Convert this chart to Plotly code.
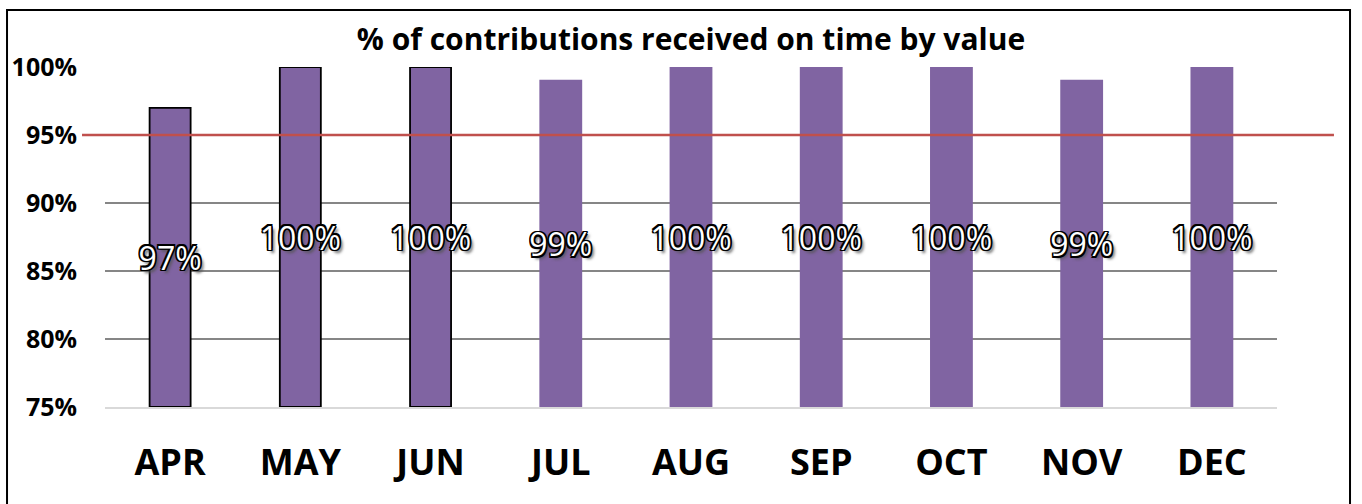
import plotly.graph_objects as go

# data
months = ["APR", "MAY", "JUN", "JUL", "AUG", "SEP", "OCT", "NOV", "DEC"]
on_time = [0.97, 1.00, 1.00, 0.99, 1.00, 1.00, 1.00, 0.99, 1.00]
outlined = [True, True, True, False, False, False, False, False, False]
labels = ["97%", "100%", "100%", "99%", "100%", "100%", "100%", "99%", "100%"]
target = 0.95
axis_min = 0.75
axis_max = 1.00
y_ticks = [0.75, 0.80, 0.85, 0.90, 0.95, 1.00]

PURPLE = "#8064A2"
RED = "#C0504D"
FONT = "Open Sans, sans-serif"

# black outline + soft drop shadow on the white value labels
o = "1.5px"
OUTLINE = ", ".join(
    f"{dx} {dy} 0 #000"
    for dx, dy in [(f"-{o}", f"-{o}"), (o, f"-{o}"), (f"-{o}", o), (o, o),
                   ("0", o), ("0", f"-{o}"), (o, "0"), (f"-{o}", "0")]
) + ", 3px 3px 3px #555"

# bars start at the axis minimum, like the Excel original
fig = go.Figure(go.Bar(
    x=months,
    y=[v - axis_min for v in on_time],
    base=axis_min,
    width=0.315,
    marker=dict(
        color=PURPLE,
        line=dict(color=["#000000" if ol else PURPLE for ol in outlined], width=1.8),
    ),
    text=labels,
    textposition="inside",
    insidetextanchor="middle",
    constraintext="none",
    textangle=0,
    textfont=dict(family=FONT, size=32, color="#ffffff", shadow=OUTLINE),
    cliponaxis=False,
    hoverinfo="skip",
))

fig.update_layout(
    width=1362,
    height=504,
    margin=dict(l=105, r=85, t=67, b=97),
    paper_bgcolor="#ffffff",
    plot_bgcolor="#ffffff",
    showlegend=False,
    title=dict(
        text="<b>% of contributions received on time by value</b>",
        x=0.5, xref="paper", xanchor="center",
        y=0.921, yref="container", yanchor="middle",
        font=dict(family=FONT, size=30, color="#000000"),
    ),
    xaxis=dict(
        showgrid=False,
        showline=True, linecolor="#d9d9d9", linewidth=1.5,
        ticks="",
        ticklabelstandoff=23,
        tickfont=dict(family=FONT, size=36, color="#000000", weight="bold"),
    ),
    yaxis=dict(
        range=[axis_min, axis_max],
        tickvals=y_ticks,
        tickformat=".0%",
        showgrid=True, gridcolor="#868686", gridwidth=1.5,
        zeroline=False,
        ticks="",
        ticklabelstandoff=27,
        tickfont=dict(family=FONT, size=25, color="#000000", weight="bold"),
    ),
    shapes=[
        # target line, running past the plot edges
        dict(type="line", xref="paper", yref="y",
             x0=-0.0196, x1=1.0486, y0=target, y1=target,
             line=dict(color=RED, width=2.5)),
        # chart border
        dict(type="rect", xref="paper", yref="paper",
             x0=-0.0836, x1=1.0623, y0=-0.3, y1=1.1676,
             line=dict(color="#000000", width=2)),
    ],
)

fig.write_html("out.html", config={"displayModeBar": False},
               post_script="document.body.style.margin='0px';")
